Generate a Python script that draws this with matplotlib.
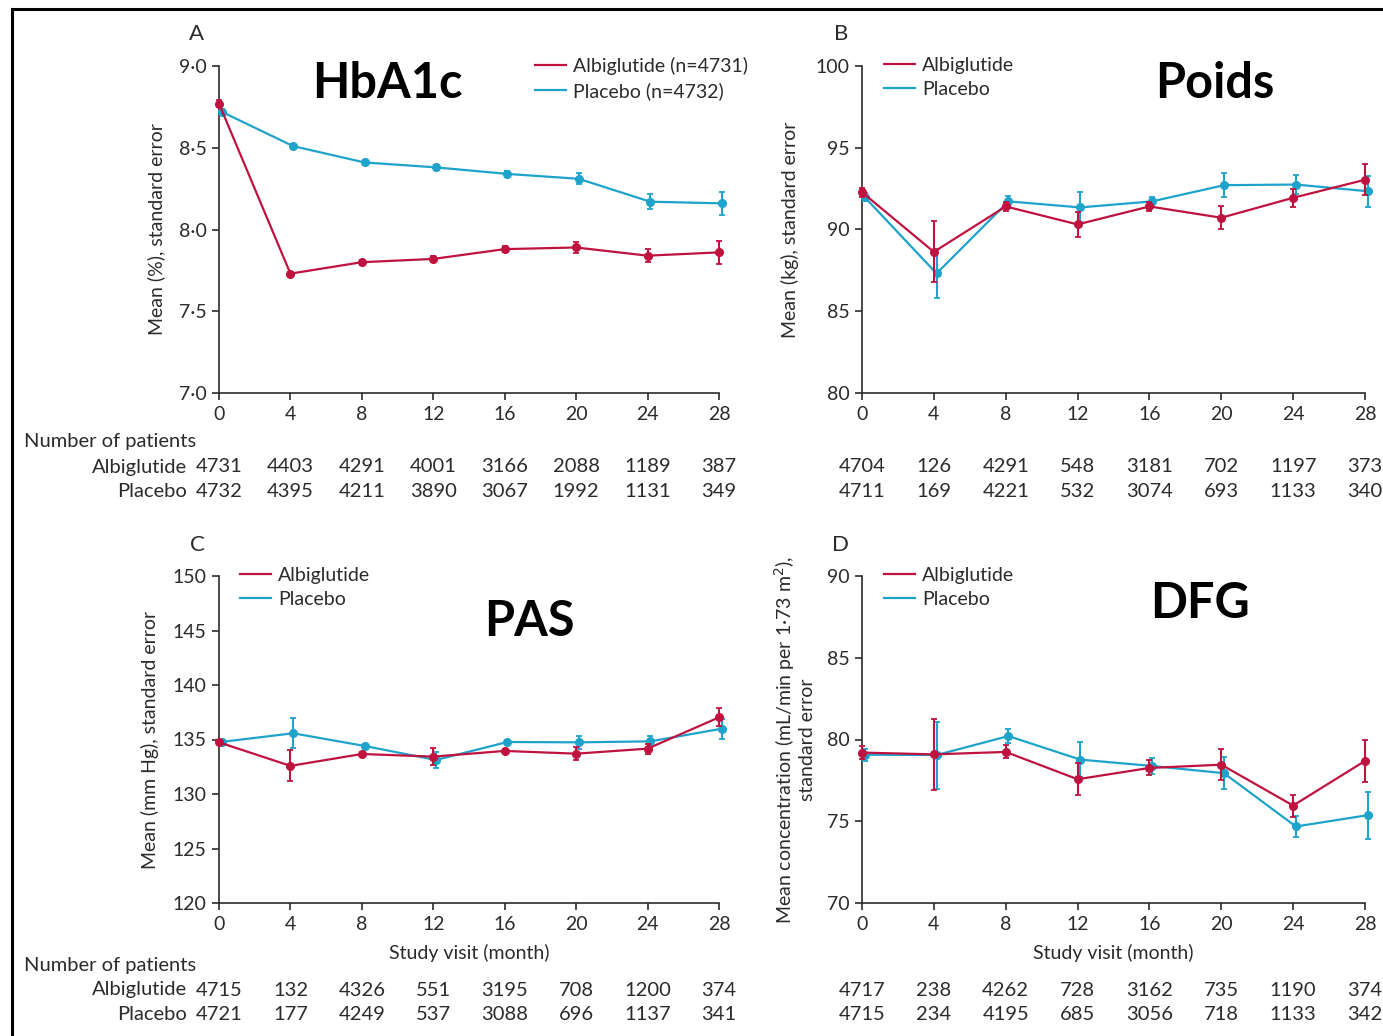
import numpy as np
import matplotlib
matplotlib.use("Agg")
import matplotlib.pyplot as plt
from matplotlib.lines import Line2D
from matplotlib.transforms import blended_transform_factory

plt.rcParams['font.family'] = ['Lato', 'DejaVu Sans']

RED = '#c0123f'
BLUE = '#1ea3cb'
GREY = '#2b2b2b'

months = [0, 4, 8, 12, 16, 20, 24, 28]

# A - HbA1c
hba1c_albi = [8.77, 7.73, 7.80, 7.82, 7.88, 7.89, 7.84, 7.86]
hba1c_albi_se = [0.02, 0.01, 0.015, 0.015, 0.02, 0.035, 0.04, 0.068]
hba1c_plac = [8.72, 8.51, 8.41, 8.38, 8.34, 8.31, 8.17, 8.16]
hba1c_plac_se = [0.02, 0.012, 0.015, 0.017, 0.02, 0.034, 0.045, 0.072]

# B - weight
poids_albi = [92.28, 88.63, 91.41, 90.31, 91.41, 90.72, 91.94, 93.04]
poids_albi_se = [0.27, 1.87, 0.25, 0.78, 0.3, 0.71, 0.56, 0.95]
poids_plac = [91.98, 87.31, 91.72, 91.35, 91.72, 92.71, 92.75, 92.34]
poids_plac_se = [0.25, 1.52, 0.3, 0.92, 0.28, 0.74, 0.57, 0.94]

# C - systolic blood pressure
pas_albi = [134.74, 132.58, 133.67, 133.43, 133.95, 133.70, 134.16, 137.03]
pas_albi_se = [0.15, 1.42, 0.2, 0.76, 0.2, 0.61, 0.46, 0.82]
pas_plac = [134.78, 135.57, 134.41, 133.12, 134.77, 134.74, 134.83, 135.99]
pas_plac_se = [0.15, 1.39, 0.2, 0.73, 0.2, 0.61, 0.5, 0.92]

# D - eGFR
dfg_albi = [79.20, 79.09, 79.24, 77.57, 78.26, 78.46, 75.96, 78.69]
dfg_albi_se = [0.38, 2.16, 0.4, 0.97, 0.46, 0.93, 0.67, 1.29]
dfg_plac = [79.07, 79.05, 80.21, 78.77, 78.38, 77.94, 74.68, 75.37]
dfg_plac_se = [0.37, 2.05, 0.42, 1.08, 0.48, 0.99, 0.67, 1.44]

# number of patients
n_a_albi = [4731, 4403, 4291, 4001, 3166, 2088, 1189, 387]
n_a_plac = [4732, 4395, 4211, 3890, 3067, 1992, 1131, 349]
n_b_albi = [4704, 126, 4291, 548, 3181, 702, 1197, 373]
n_b_plac = [4711, 169, 4221, 532, 3074, 693, 1133, 340]
n_c_albi = [4715, 132, 4326, 551, 3195, 708, 1200, 374]
n_c_plac = [4721, 177, 4249, 537, 3088, 696, 1137, 341]
n_d_albi = [4717, 238, 4262, 728, 3162, 735, 1190, 374]
n_d_plac = [4715, 234, 4195, 685, 3056, 718, 1133, 342]

W, H = 1383, 1036
fig = plt.figure(figsize=(W / 100, H / 100), dpi=100)


def px_axes(x0, x1, ytop, ybot):
    return fig.add_axes([x0 / W, 1 - ybot / H, (x1 - x0) / W, (ybot - ytop) / H])


def panel(ax, albi, albi_se, plac, plac_se, ylim, yticks, ylabels, legend_labels, legend_x):
    x = np.array(months, dtype=float)
    ax.errorbar(x + 0.15, plac, yerr=plac_se, color=BLUE, lw=1.6, marker='o', ms=5.5,
                capsize=2.5, elinewidth=1.5, capthick=1.3, clip_on=False, zorder=3)
    ax.errorbar(x, albi, yerr=albi_se, color=RED, lw=1.6, marker='o', ms=5.5,
                capsize=2.5, elinewidth=1.5, capthick=1.3, clip_on=False, zorder=4)
    ax.set_xlim(0, 28)
    ax.set_ylim(*ylim)
    ax.set_xticks(months)
    ax.set_xticklabels([str(m) for m in months])
    ax.set_yticks(yticks)
    ax.set_yticklabels(ylabels)
    for s in ['top', 'right']:
        ax.spines[s].set_visible(False)
    for s in ['left', 'bottom']:
        ax.spines[s].set_color(GREY)
        ax.spines[s].set_linewidth(1.2)
    ax.tick_params(direction='out', length=5, width=1.2, color=GREY,
                   labelsize=14, labelcolor=GREY, pad=4)
    handles = [Line2D([], [], color=RED, lw=1.6), Line2D([], [], color=BLUE, lw=1.6)]
    ax.legend(handles, legend_labels, loc='upper left', bbox_to_anchor=(legend_x, 1.028),
              frameon=False, fontsize=14, handlelength=1.6, handletextpad=0.35,
              labelspacing=0.36, borderaxespad=0, borderpad=0, labelcolor=GREY)


axA = px_axes(219, 719, 66, 393)
axB = px_axes(862, 1365, 66, 393)
axC = px_axes(219, 719, 576, 903)
axD = px_axes(862, 1365, 576, 903)

panel(axA, hba1c_albi, hba1c_albi_se, hba1c_plac, hba1c_plac_se, (7.0, 9.0),
      [7.0, 7.5, 8.0, 8.5, 9.0], ['7·0', '7·5', '8·0', '8·5', '9·0'],
      ['Albiglutide (n=4731)', 'Placebo (n=4732)'], (535 - 219) / 500)
panel(axB, poids_albi, poids_albi_se, poids_plac, poids_plac_se, (80, 100),
      [80, 85, 90, 95, 100], ['80', '85', '90', '95', '100'],
      ['Albiglutide', 'Placebo'], (884 - 862) / 503)
panel(axC, pas_albi, pas_albi_se, pas_plac, pas_plac_se, (120, 150),
      [120, 125, 130, 135, 140, 145, 150], ['120', '125', '130', '135', '140', '145', '150'],
      ['Albiglutide', 'Placebo'], (240 - 219) / 500)
panel(axD, dfg_albi, dfg_albi_se, dfg_plac, dfg_plac_se, (70, 90),
      [70, 75, 80, 85, 90], ['70', '75', '80', '85', '90'],
      ['Albiglutide', 'Placebo'], (884 - 862) / 503)

axA.set_ylabel('Mean (%), standard error', fontsize=14, color=GREY, labelpad=10)
axB.set_ylabel('Mean (kg), standard error', fontsize=14, color=GREY, labelpad=12)
axC.set_ylabel('Mean (mm Hg), standard error', fontsize=14, color=GREY, labelpad=10)
axD.set_ylabel('Mean concentration (mL/min per 1·73 m$^2$),\nstandard error',
               fontsize=14, color=GREY, labelpad=8, linespacing=1.15)
axC.set_xlabel('Study visit (month)', fontsize=14, color=GREY, labelpad=8)
axD.set_xlabel('Study visit (month)', fontsize=14, color=GREY, labelpad=8)

# panel letters
for ax, letter, xp in [(axA, 'A', 197), (axB, 'B', 841), (axC, 'C', 197), (axD, 'D', 840)]:
    ytop = 34 if ax in (axA, axB) else 545
    fig.text(xp / W, 1 - ytop / H, letter, fontsize=16, color=GREY, ha='center', va='center')

# big titles
big = dict(fontsize=35, fontweight='bold', color='black', ha='center', va='center')
fig.text(387 / W, 1 - 83 / H, 'HbA1c', **big)
fig.text(1215 / W, 1 - 83 / H, 'Poids', **big)
fig.text(529 / W, 1 - 621 / H, 'PAS', **big)
fig.text(1200 / W, 1 - 604 / H, 'DFG', **big)

# number of patients tables
tab = dict(fontsize=14.5, color=GREY, va='center')
for ax, top, nal, npl, label in [(axA, 442, n_a_albi, n_a_plac, True),
                                 (axB, 442, n_b_albi, n_b_plac, False),
                                 (axC, 965, n_c_albi, n_c_plac, True),
                                 (axD, 965, n_d_albi, n_d_plac, False)]:
    tr = blended_transform_factory(ax.transData, fig.transFigure)
    for m, a, p in zip(months, nal, npl):
        ax.text(m, 1 - (top + 25) / H, str(a), transform=tr, ha='center', **tab)
        ax.text(m, 1 - (top + 50) / H, str(p), transform=tr, ha='center', **tab)
    if label:
        fig.text(24 / W, 1 - top / H, 'Number of patients', ha='left', **tab)
        fig.text(187 / W, 1 - (top + 25) / H, 'Albiglutide', ha='right', **tab)
        fig.text(187 / W, 1 - (top + 50) / H, 'Placebo', ha='right', **tab)

# frame lines at top and left
fig.add_artist(Line2D([12 / W, 1], [1 - 9 / H, 1 - 9 / H], color='black', lw=2.2,
                      transform=fig.transFigure))
fig.add_artist(Line2D([12 / W, 12 / W], [0, 1 - 9 / H], color='black', lw=2.2,
                      transform=fig.transFigure))

fig.savefig('out.png', dpi=100)
